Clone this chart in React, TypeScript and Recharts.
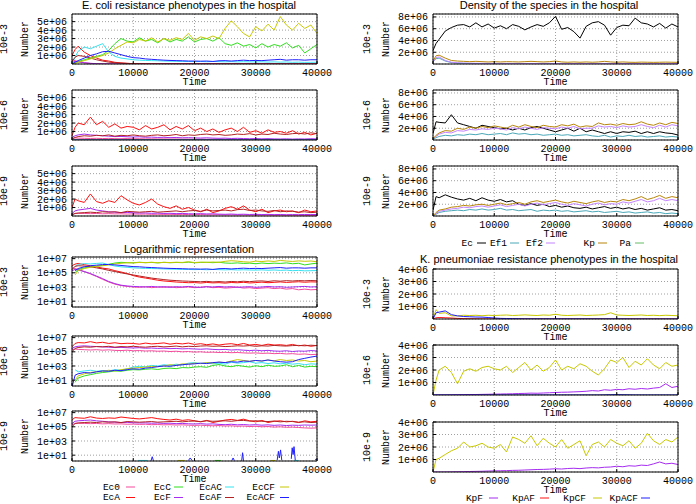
import React from "react";
import { LineChart, Line, XAxis, YAxis, CartesianGrid } from "recharts";

// time points shared by every series
const T = [
  0, 500, 1000,
  2000, 3000, 4000, 5000, 6000, 7000, 8000, 9000, 10000, 11000,
  12000, 13000, 14000, 15000, 16000, 17000, 18000, 19000, 20000, 21000,
  22000, 23000, 24000, 25000, 26000, 27000, 28000, 29000, 30000, 31000,
  32000, 33000, 34000, 35000, 36000, 37000, 38000, 39000, 40000,
];

// ---- E. coli phenotypes, 10e-3 ----
const ec0_3 = [5e5, 4e5, 3e5,
  1.5e5, 7e4, 3e4, 1.2e4, 5e3, 2.5e3, 1.6e3, 1.2e3, 1.0e3, 9e2,
  1.1e3, 8e2, 1e3, 9e2, 1.1e3, 8e2, 9e2, 1e3, 8e2, 9e2,
  1.1e3, 8e2, 9e2, 7e2, 8e2, 1e3, 7e2, 8e2, 6e2, 7e2,
  8e2, 6e2, 7e2, 5e2, 6e2, 4e2, 5e2, 4e2, 4.5e2];
const ecA_3 = [1.0e6, 1.7e6, 2.1e6,
  1.4e6, 1.0e6, 7e5, 4.5e5, 3.5e5, 2e5, 1.3e5, 8e4, 4e4, 2.5e4,
  1.8e4, 1.3e4, 9e3, 7e3, 6e3, 5e3, 4.5e3, 4e3, 4.2e3, 3.6e3,
  4.4e3, 3.8e3, 4.1e3, 3.5e3, 4.3e3, 3.9e3, 4.6e3, 3.7e3, 4.2e3, 4.8e3,
  4.0e3, 4.5e3, 5.2e3, 4.4e3, 4.9e3, 5.5e3, 4.7e3, 5.3e3, 5.0e3];
const ecC_3 = [0, 1e5, 3e5,
  5e5, 7e5, 9e5, 1.1e6, 1.6e6, 2.4e6, 3.0e6, 2.7e6, 2.6e6, 3.1e6,
  2.7e6, 2.9e6, 2.5e6, 3.0e6, 2.6e6, 2.9e6, 2.7e6, 3.2e6, 2.6e6, 2.9e6,
  3.0e6, 2.7e6, 3.1e6, 2.4e6, 2.2e6, 2.5e6, 2.1e6, 2.3e6, 1.9e6, 2.4e6,
  2.0e6, 2.3e6, 2.1e6, 2.5e6, 1.9e6, 2.2e6, 1.3e6, 1.8e6, 2.3e6];
const ecF_3 = [2e5, 3e5, 2.5e5,
  1.5e5, 8e4, 3.5e4, 1.5e4, 6e3, 3e3, 1.8e3, 1.4e3, 1.2e3, 1.1e3,
  1e3, 1.2e3, 1e3, 1.1e3, 9e2, 1.1e3, 1e3, 1.2e3, 1e3, 9e2,
  1.1e3, 1e3, 1.2e3, 1e3, 1.1e3, 9e2, 1e3, 1.1e3, 9e2, 1e3,
  1.2e3, 1e3, 1.1e3, 9e2, 1e3, 1.1e3, 1.2e3, 1e3, 1.1e3];
const ecAC_3 = [0, 8e5, 1.5e6,
  2.0e6, 1.8e6, 2.1e6, 2.4e6, 1.4e6, 9e5, 7e5, 6e5, 5e5, 4.5e5,
  4.2e5, 4e5, 3.8e5, 3.5e5, 3.3e5, 3.2e5, 3e5, 3e5, 2.8e5, 3e5,
  2.7e5, 3e5, 2.8e5, 2.6e5, 2.8e5, 2.5e5, 2.7e5, 2.5e5, 2.4e5, 2.6e5,
  2.3e5, 2.5e5, 2.2e5, 2.4e5, 2e5, 2.2e5, 1.9e5, 2e5, 2.1e5];
const ecAF_3 = [3e5, 8e5, 1.0e6,
  9e5, 7e5, 5e5, 3.5e5, 2.2e5, 1.5e5, 1e5, 7e4, 5e4, 3.5e4,
  2.5e4, 1.8e4, 1.4e4, 1.1e4, 9e3, 8e3, 7e3, 6.5e3, 6e3, 5.5e3,
  6.2e3, 5.2e3, 5.8e3, 5e3, 6e3, 5.4e3, 6.5e3, 5.6e3, 6.8e3, 7.2e3,
  6e3, 7.5e3, 6.6e3, 7.8e3, 7e3, 8e3, 7.4e3, 8.2e3, 7.5e3];
const ecCF_3 = [0, 5e4, 2e5,
  4e5, 6e5, 8e5, 1.0e6, 1.3e6, 1.8e6, 2.2e6, 2.6e6, 2.5e6, 2.9e6,
  2.7e6, 3.1e6, 2.6e6, 3.0e6, 2.8e6, 3.1e6, 2.9e6, 3.6e6, 2.8e6, 3.2e6,
  3.0e6, 3.3e6, 3.0e6, 4.2e6, 5.1e6, 4.4e6, 3.6e6, 3.2e6, 4.4e6, 3.9e6,
  4.7e6, 4.0e6, 5.6e6, 4.6e6, 4.0e6, 4.8e6, 4.2e6, 4.6e6, 3.6e6];
const ecACF_3 = [0, 2e5, 4e5,
  7e5, 1.0e6, 1.2e6, 1.45e6, 1.5e6, 1.3e6, 1.1e6, 9e5, 7.5e5, 7e5,
  6e5, 5.5e5, 5e5, 4.5e5, 4.2e5, 4e5, 3.8e5, 3.5e5, 3.5e5, 3.3e5,
  3.5e5, 3e5, 3.8e5, 4e5, 3.5e5, 4e5, 4.5e5, 4e5, 4.2e5, 4e5,
  4.5e5, 5e5, 5.5e5, 4.5e5, 5e5, 5e5, 4.5e5, 5e5, 5e5];

// ---- E. coli phenotypes, 10e-6 ----
const ec0_6 = [2e5, 2.5e5, 2.2e5,
  2e5, 1.8e5, 2e5, 1.7e5, 1.9e5, 1.6e5, 1.5e5, 1.7e5, 1.4e5, 1.5e5,
  1.3e5, 1.4e5, 1.2e5, 1.3e5, 1.1e5, 1.2e5, 1e5, 1.1e5, 9e4, 1e5,
  8.5e4, 9e4, 8e4, 8.5e4, 7.5e4, 8e4, 7e4, 6.5e4, 7e4, 6e4,
  6.5e4, 5.5e4, 6e4, 5e4, 5.5e4, 4.5e4, 5e4, 4e4, 4.5e4];
const ecA_6 = [5e5, 1.5e6, 2.0e6,
  1.8e6, 2.7e6, 1.8e6, 2.2e6, 1.5e6, 1.9e6, 1.4e6, 1.6e6, 1.5e6, 1.2e6,
  1.7e6, 1.3e6, 1.5e6, 1.8e6, 1.2e6, 1.6e6, 1.3e6, 1.7e6, 1.1e6, 1.4e6,
  1.0e6, 1.3e6, 9e5, 1.2e6, 1.4e6, 1.0e6, 1.5e6, 9e5, 1.1e6, 8e5,
  1.2e6, 9e5, 1.0e6, 8e5, 1.1e6, 7e5, 9e5, 6e5, 8e5];
const ecC_6 = [0, 5, 20,
  40, 60, 90, 120, 150, 200, 180, 250, 300, 280,
  350, 400, 320, 450, 500, 420, 600, 550, 700, 800,
  650, 1.2e3, 1.6e3, 1.0e3, 800, 1.2e3, 900, 700, 1.1e3, 800,
  1.3e3, 900, 1.0e3, 1.5e3, 800, 1.2e3, 700, 900, 800];
const ecF_6 = [3e5, 5e5, 6e5,
  7e5, 6e5, 5.5e5, 5e5, 4.5e5, 4e5, 4.2e5, 3.8e5, 3.5e5, 3.8e5,
  3.2e5, 3.4e5, 3e5, 3.2e5, 2.8e5, 3e5, 2.6e5, 2.8e5, 2.5e5, 2.3e5,
  2.6e5, 2.2e5, 2e5, 2.2e5, 1.8e5, 2e5, 1.7e5, 1.5e5, 1.7e5, 1.4e5,
  1.6e5, 1.3e5, 1.2e5, 1.4e5, 1.1e5, 1.3e5, 1.2e5, 1.5e5, 1.3e5];
const ecAC_6 = [0, 300, 150,
  200, 250, 180, 220, 200, 300, 250, 400, 700, 900,
  800, 1.2e3, 1.0e3, 1.5e3, 1.2e3, 1.8e3, 1.4e3, 2.5e3, 3e3, 2.2e3,
  2.8e3, 2e3, 2.5e3, 1.8e3, 3.5e3, 2.5e3, 3e3, 4e3, 2.5e3, 3e3,
  2.2e3, 2.8e3, 2e3, 2.5e3, 1.8e3, 2.2e3, 1.5e3, 2e3, 1.8e3];
const ecAF_6 = [1e5, 3e5, 4e5,
  5e5, 4.5e5, 5.5e5, 5e5, 6e5, 4.5e5, 5.5e5, 5e5, 6e5, 5e5,
  4.5e5, 5.5e5, 6e5, 5e5, 5.5e5, 6.5e5, 5e5, 6e5, 5.5e5, 6.5e5,
  7e5, 6e5, 6.5e5, 5.5e5, 6e5, 7e5, 6.5e5, 7.5e5, 6e5, 7e5,
  6.5e5, 8e5, 7e5, 6.5e5, 7.5e5, 8e5, 7e5, 8.5e5, 7.5e5];
const ecCF_6 = [0, 10, 40,
  80, 120, 150, 180, 250, 200, 300, 400, 500, 600,
  700, 900, 800, 1.0e3, 1.5e3, 1.2e3, 2e3, 1.8e3, 2.5e3, 2.2e3,
  3e3, 2.5e3, 3.5e3, 3e3, 5e3, 8e3, 6e3, 4.5e3, 6e3, 5e3,
  7e3, 5.5e3, 8e3, 6e3, 7e3, 5e3, 6e3, 4e3, 5e3];
const ecACF_6 = [1, 50, 80,
  120, 100, 150, 200, 180, 250, 220, 300, 400, 350,
  500, 600, 800, 1.0e3, 900, 1.2e3, 1.5e3, 1.8e3, 2e3, 2.5e3,
  2.2e3, 3e3, 3.5e3, 3e3, 4e3, 3.5e3, 5e3, 4.5e3, 6e3, 5e3,
  7e3, 5e3, 4e3, 3.5e3, 4e3, 8e3, 1.2e4, 1.8e4, 2.5e4];

// ---- E. coli phenotypes, 10e-9 ----
const ec0_9 = [2e5, 3e5, 3.2e5,
  3e5, 2.8e5, 3e5, 2.6e5, 2.8e5, 2.5e5, 2.6e5, 2.3e5, 2.4e5, 2.2e5,
  2.3e5, 2e5, 2.1e5, 1.9e5, 2e5, 1.8e5, 1.9e5, 1.7e5, 1.6e5, 1.7e5,
  1.5e5, 1.4e5, 1.5e5, 1.3e5, 1.4e5, 1.2e5, 1.3e5, 1.1e5, 1.2e5, 1e5,
  1.1e5, 9e4, 1e5, 8.5e4, 9e4, 8e4, 7e4, 6.5e4, 7e4];
const ecA_9 = [1e6, 2.0e6, 1.8e6,
  1.6e6, 2.6e6, 1.7e6, 1.5e6, 1.8e6, 1.6e6, 2.4e6, 1.9e6, 1.5e6, 1.3e6,
  1.6e6, 2.0e6, 1.4e6, 1.1e6, 9e5, 1.2e6, 8e5, 1.0e6, 7e5, 5e5,
  8e5, 4e5, 6e5, 9e5, 1.1e6, 8e5, 1.2e6, 7e5, 5e5, 8e5,
  4e5, 6e5, 7e5, 5e5, 6e5, 4e5, 7e5, 5e5, 6e5];
const ecF_9 = [3e5, 6e5, 7e5,
  8e5, 9e5, 7e5, 6e5, 5e5, 4.5e5, 4e5, 4.2e5, 3.8e5, 3.5e5,
  3.6e5, 3.2e5, 3.4e5, 3e5, 3.2e5, 2.8e5, 3e5, 2.7e5, 2.5e5, 2.8e5,
  2.4e5, 2.6e5, 2.2e5, 2e5, 2.3e5, 1.9e5, 2.1e5, 1.8e5, 2e5, 1.7e5,
  1.9e5, 1.6e5, 1.8e5, 1.5e5, 1.7e5, 1.6e5, 1.8e5, 1.7e5, 1.8e5];
const ecAF_9 = [1e5, 3e5, 3.5e5,
  4e5, 4.5e5, 4e5, 5e5, 4.5e5, 5e5, 4e5, 5.5e5, 5e5, 4.5e5,
  5e5, 5.5e5, 4.5e5, 5e5, 5.5e5, 6e5, 5e5, 6e5, 6.5e5, 5.5e5,
  7e5, 6e5, 6.5e5, 7e5, 6e5, 7.5e5, 8e5, 6.5e5, 7e5, 6e5,
  5.5e5, 6.5e5, 5e5, 6e5, 5.5e5, 4.5e5, 5e5, 4e5, 4.5e5];
// rare low counts at 10e-9 (only visible on the log axis); null breaks the line
const ecC_9 = [[23300, 1.8], [24300, 1.8]];
const ecAC_9 = [[10800, 1.8], [12300, 1.8], [12400, null], [36300, 1.8], [37000, 1.8]];
const ecCF_9 = [[17300, 1.8], [18400, 1.8], [18500, null], [32400, 1.8], [33200, 1.8]];
const ecACF_9 = [[12900, 1.6], [13100, 6], [13300, 1.6], [13400, null],
  [19000, 1.8], [19300, 4], [19600, 1.8], [19700, null],
  [26100, 1.8], [26300, 4], [26500, 1.8], [26600, null],
  [27700, 1.6], [27850, 22], [28000, 1.6], [28100, null],
  [33500, 2], [33700, 35], [33850, 4], [34050, 55], [34250, 2], [34350, null],
  [35800, 3], [35950, 110], [36100, 12], [36250, 160], [36450, 2], [36550, null],
  [39700, 2.5], [40000, 2.5]];

// ---- species density ----
const ec_3r = [2.3e6, 3.5e6, 4.2e6,
  5.6e6, 6.2e6, 6.6e6, 6.7e6, 6.3e6, 7.0e6, 6.3e6, 6.8e6, 6.1e6, 6.5e6,
  6.0e6, 6.7e6, 6.4e6, 5.8e6, 6.3e6, 6.7e6, 6.4e6, 7.0e6, 8.1e6, 5.9e6,
  6.2e6, 5.5e6, 4.4e6, 6.4e6, 7.0e6, 7.2e6, 6.6e6, 4.9e6, 6.2e6, 6.6e6,
  6.5e6, 7.8e6, 7.0e6, 6.8e6, 6.3e6, 6.9e6, 6.1e6, 6.8e6, 6.3e6];
const ef1_3r = [4e5, 9e5, 1.0e6,
  5e5, 2.5e5, 1.5e5, 1.2e5, 1e5, 9e4, 8e4, 8e4, 7e4, 7e4,
  6e4, 6e4, 6e4, 5e4, 5e4, 5e4, 5e4, 6e4, 5e4, 5e4,
  5e4, 4e4, 5e4, 4e4, 5e4, 4e4, 5e4, 4e4, 5e4, 4e4,
  4e4, 5e4, 4e4, 4e4, 5e4, 4e4, 4e4, 4e4, 4e4];
const ef2_3r = [3e5, 1.1e6, 1.2e6,
  6e5, 3e5, 2e5, 1.5e5, 1.3e5, 1.2e5, 1.1e5, 1.1e5, 1e5, 1e5,
  1e5, 9e4, 1e5, 9e4, 1e5, 9e4, 1e5, 1.1e5, 9e4, 9e4,
  8e4, 9e4, 8e4, 9e4, 8e4, 9e4, 1e5, 8e4, 9e4, 8e4,
  8e4, 9e4, 8e4, 8e4, 9e4, 8e4, 8e4, 8e4, 8e4];
const kp_3r = [5e5, 1.4e6, 1.5e6,
  1.0e6, 6e5, 5e5, 4.5e5, 4e5, 4.5e5, 4e5, 3.5e5, 4e5, 3.5e5,
  4e5, 3.8e5, 3.5e5, 4e5, 4.5e5, 4e5, 3.5e5, 4e5, 5e5, 3.5e5,
  3e5, 3.5e5, 3e5, 3.5e5, 3e5, 3.5e5, 4.5e5, 3.5e5, 3e5, 3.5e5,
  3e5, 2.8e5, 3.2e5, 3e5, 2.8e5, 3e5, 3.2e5, 3e5, 2.8e5];
const ec_6r = [1.1e6, 3.1e6, 3.0e6,
  2.9e6, 4.3e6, 2.9e6, 2.6e6, 2.3e6, 2.0e6, 2.5e6, 2.3e6, 2.1e6, 1.9e6,
  2.0e6, 1.7e6, 2.0e6, 1.7e6, 2.1e6, 2.3e6, 2.0e6, 1.7e6, 1.4e6, 1.7e6,
  2.0e6, 1.5e6, 2.0e6, 1.4e6, 1.7e6, 1.4e6, 1.1e6, 1.4e6, 1.1e6, 1.4e6,
  1.3e6, 1.5e6, 1.1e6, 1.4e6, 1.1e6, 1.4e6, 1.2e6, 1.1e6, 8.5e5];
const ef1_6r = [1e5, 4e5, 6e5,
  8e5, 7e5, 9e5, 8e5, 1.0e6, 9e5, 1.1e6, 9e5, 1.0e6, 1.1e6,
  9e5, 1.2e6, 1.0e6, 1.1e6, 9e5, 1.0e6, 8e5, 9e5, 1.0e6, 8e5,
  9e5, 7e5, 8e5, 9e5, 7e5, 6e5, 8e5, 5e5, 7e5, 6e5,
  8e5, 6e5, 7e5, 5e5, 6e5, 7e5, 5e5, 6e5, 5e5];
const ef2_6r = [2e5, 6e5, 1.0e6,
  1.3e6, 1.2e6, 1.6e6, 1.5e6, 1.8e6, 1.7e6, 1.9e6, 1.8e6, 2.0e6, 1.9e6,
  1.7e6, 2.1e6, 1.9e6, 2.2e6, 2.0e6, 1.8e6, 2.1e6, 2.0e6, 1.9e6, 2.2e6,
  2.0e6, 2.3e6, 1.9e6, 2.0e6, 2.0e6, 2.4e6, 2.2e6, 2.3e6, 2.1e6, 2.4e6,
  2.2e6, 2.3e6, 2.6e6, 2.3e6, 2.1e6, 2.5e6, 2.2e6, 2.6e6, 2.4e6];
const kp_6r = [2e5, 8e5, 1.2e6,
  1.6e6, 1.5e6, 2.0e6, 1.8e6, 2.2e6, 2.0e6, 2.3e6, 2.1e6, 2.4e6, 2.2e6,
  2.0e6, 2.5e6, 2.2e6, 2.6e6, 2.3e6, 2.1e6, 2.5e6, 2.3e6, 2.2e6, 2.6e6,
  2.4e6, 2.7e6, 2.2e6, 2.4e6, 2.3e6, 2.9e6, 2.6e6, 2.7e6, 2.5e6, 2.8e6,
  2.6e6, 2.7e6, 3.1e6, 2.7e6, 2.5e6, 2.9e6, 2.6e6, 3.0e6, 2.8e6];
const ec_9r = [1.0e6, 3.3e6, 3.1e6,
  3.6e6, 3.2e6, 2.9e6, 2.7e6, 3.0e6, 2.6e6, 3.1e6, 2.7e6, 2.5e6, 2.8e6,
  2.4e6, 2.6e6, 2.0e6, 1.8e6, 2.1e6, 1.8e6, 2.0e6, 1.6e6, 1.8e6, 1.5e6,
  1.7e6, 1.4e6, 1.3e6, 1.5e6, 1.2e6, 1.4e6, 1.6e6, 1.3e6, 1.5e6, 1.2e6,
  1.4e6, 1.1e6, 1.3e6, 1.0e6, 1.2e6, 1.4e6, 1.0e6, 1.1e6, 9e5];
const ef1_9r = [0, 3e5, 6e5,
  8e5, 9e5, 1.0e6, 9e5, 1.1e6, 1.0e6, 1.2e6, 1.0e6, 1.1e6, 1.3e6,
  1.0e6, 1.1e6, 9e5, 1.0e6, 1.1e6, 8e5, 1.0e6, 9e5, 1.0e6, 8e5,
  9e5, 7e5, 8e5, 9e5, 7e5, 8e5, 6e5, 7e5, 8e5, 6e5,
  7e5, 5e5, 6e5, 7e5, 5e5, 6e5, 4e5, 5e5, 4e5];
const ef2_9r = [0, 4e5, 8e5,
  1.0e6, 1.2e6, 1.3e6, 1.5e6, 1.4e6, 1.6e6, 1.7e6, 1.5e6, 1.7e6, 1.9e6,
  1.6e6, 1.8e6, 2.0e6, 1.7e6, 2.0e6, 2.2e6, 1.9e6, 2.1e6, 2.3e6, 2.0e6,
  1.8e6, 2.1e6, 1.9e6, 1.7e6, 2.0e6, 2.2e6, 1.9e6, 2.1e6, 2.0e6, 2.4e6,
  2.2e6, 2.5e6, 2.8e6, 2.4e6, 2.6e6, 3.0e6, 2.6e6, 2.8e6, 2.6e6];
const kp_9r = [0, 6e5, 1.0e6,
  1.2e6, 1.5e6, 1.6e6, 1.8e6, 1.7e6, 1.9e6, 2.0e6, 1.8e6, 2.0e6, 2.2e6,
  1.9e6, 2.1e6, 2.3e6, 2.0e6, 2.4e6, 2.6e6, 2.3e6, 2.5e6, 2.7e6, 2.4e6,
  2.2e6, 2.5e6, 2.3e6, 2.1e6, 2.4e6, 2.6e6, 2.3e6, 2.5e6, 2.4e6, 2.8e6,
  2.6e6, 2.9e6, 3.3e6, 2.8e6, 3.1e6, 3.5e6, 3.0e6, 3.3e6, 3.1e6];

// ---- K. pneumoniae phenotypes ----
const kpAF_3 = [0, 1e5, 1.2e5,
  1e5, 8e4, 5e4, 3e4, 2e4, 1e4, 0, 0, 0, 0,
  0, 0, 0, 0, 0, 0, 0, 0, 0, 0,
  0, 0, 0, 0, 0, 0, 0, 0, 0, 0,
  0, 0, 0, 0, 0, 0, 0, 0, 0];
const kpCF_3 = [0, 7.5e5, 4.5e5,
  5e5, 2.5e5, 2.5e5, 3e5, 2.8e5, 3e5, 2.6e5, 3e5, 2.8e5, 3e5,
  3.2e5, 2.8e5, 3e5, 3.3e5, 3e5, 2.8e5, 3.2e5, 3e5, 3.8e5, 3e5,
  2.8e5, 3e5, 3.2e5, 2.8e5, 3e5, 3.2e5, 3.5e5, 5e5, 3.2e5, 3e5,
  2.8e5, 3e5, 3.2e5, 2.8e5, 3e5, 2.7e5, 3e5, 2.8e5, 2.6e5];
const kpACF_3 = [0, 5e5, 5.5e5,
  6.5e5, 3.5e5, 2.5e5, 2e5, 1.8e5, 1.6e5, 1.5e5, 1.2e5, 8e4, 5e4,
  4e4, 3e4, 2e4, 1e4, 1e4, 1e4, 1e4, 1e4, 1e4, 1e4,
  1e4, 1e4, 1e4, 1e4, 1e4, 1e4, 1e4, 1e4, 1e4, 1e4,
  0, 0, 0, 0, 0, 0, 0, 0, 0];
const kpF_6 = [0, 0, 0,
  0, 1e4, 2e4, 3e4, 4e4, 4e4, 5e4, 6e4, 7e4, 8e4,
  9e4, 1e5, 1.2e5, 1.3e5, 1.5e5, 1.4e5, 1.6e5, 1.8e5, 2e5, 2.2e5,
  2.3e5, 2.5e5, 2.7e5, 3e5, 3.5e5, 3.2e5, 4.2e5, 3.8e5, 4.5e5, 4.2e5,
  5e5, 4.6e5, 5.2e5, 4.8e5, 5.5e5, 6e5, 9e5, 6e5, 7e5];
const kpCF_6 = [0, 1.2e6, 2.0e6,
  2.3e6, 1.8e6, 9e5, 1.9e6, 2.1e6, 1.9e6, 2.2e6, 2.3e6, 2.1e6, 2.0e6,
  2.3e6, 1.8e6, 2.2e6, 2.6e6, 2.0e6, 2.4e6, 1.9e6, 2.2e6, 2.8e6, 2.0e6,
  2.3e6, 2.1e6, 2.5e6, 2.3e6, 1.9e6, 1.6e6, 2.1e6, 2.8e6, 2.6e6, 3.0e6,
  2.2e6, 2.7e6, 2.4e6, 2.9e6, 2.4e6, 2.1e6, 2.6e6, 2.3e6, 2.4e6];
const kpACF_6 = [0, 0, 0,
  0, 0, 0, 0, 0, 0, 0, 0, 0, 0,
  0, 0, 0, 0, 0, 0, 0, 0, 0, 0,
  0, 0, 0, 0, 0, 0, 1e4, 2.5e4, 3e4, 2e4,
  1e4, 0, 0, 0, 0, 0, 0, 0, 0];
const kpF_9 = [0, 0, 0,
  0, 1e4, 2e4, 3e4, 4e4, 5e4, 6e4, 8e4, 9e4, 1e5,
  1.1e5, 1.3e5, 1.4e5, 1.6e5, 1.8e5, 2e5, 2.1e5, 2.3e5, 2.6e5, 2.4e5,
  2.8e5, 3e5, 2.7e5, 3.2e5, 3.5e5, 3.3e5, 3.8e5, 4e5, 4.6e5, 4.2e5,
  5e5, 4.7e5, 5.5e5, 5.2e5, 6.5e5, 8e5, 6.5e5, 7e5, 6e5];
const kpCF_9 = [0, 1.0e6, 1.1e6,
  1.4e6, 1.7e6, 1.9e6, 2.4e6, 2.0e6, 2.1e6, 2.3e6, 2.0e6, 1.9e6, 2.2e6,
  1.6e6, 2.8e6, 2.6e6, 2.3e6, 2.9e6, 2.1e6, 2.7e6, 2.3e6, 2.0e6, 2.6e6,
  1.9e6, 2.2e6, 2.5e6, 1.3e6, 2.2e6, 2.4e6, 2.0e6, 2.6e6, 2.3e6, 2.1e6,
  2.5e6, 1.9e6, 2.3e6, 3.1e6, 2.5e6, 2.2e6, 2.6e6, 2.4e6, 2.8e6];

const C = {
  Ec0: "#f54a9c", EcA: "#ff1010", EcC: "#2fe01c", EcF: "#a52cf0",
  EcAC: "#35e4f2", EcAF: "#b22222", EcCF: "#c8c800", EcACF: "#1f1fff",
  Ec: "#000000", Ef1: "#4aa8b8", Ef2: "#c384ff", Kp: "#b8860b", Pa: "#66bb66",
  KpF: "#a52cf0", KpAF: "#ff1010", KpCF: "#c8c800", KpACF: "#1f1fff",
};

const mono = '"Liberation Mono", "DejaVu Sans Mono", monospace';
const sans = '"Liberation Sans", Arial, sans-serif';

type S = { name: string; values: number[] };
type Pts = (number | null)[][];

const ecoli = (a: number[], b: number[], c: number[], d: number[], e: number[], f: number[], g: number[], h: number[]): S[] => [
  { name: "Ec0", values: a }, { name: "EcA", values: b }, { name: "EcC", values: c }, { name: "EcF", values: d },
  { name: "EcAC", values: e }, { name: "EcAF", values: f }, { name: "EcCF", values: g }, { name: "EcACF", values: h },
];
const ec3 = ecoli(ec0_3, ecA_3, ecC_3, ecF_3, ecAC_3, ecAF_3, ecCF_3, ecACF_3);
const ec6 = ecoli(ec0_6, ecA_6, ecC_6, ecF_6, ecAC_6, ecAF_6, ecCF_6, ecACF_6);
const ec9 = [
  { name: "Ec0", values: ec0_9 }, { name: "EcA", values: ecA_9 },
  { name: "EcF", values: ecF_9 }, { name: "EcAF", values: ecAF_9 },
];
const ec9low: { name: string; pts: Pts }[] = [
  { name: "EcC", pts: ecC_9 }, { name: "EcAC", pts: ecAC_9 },
  { name: "EcCF", pts: ecCF_9 }, { name: "EcACF", pts: ecACF_9 },
];
const dens3 = [{ name: "Ec", values: ec_3r }, { name: "Ef1", values: ef1_3r }, { name: "Ef2", values: ef2_3r }, { name: "Kp", values: kp_3r }];
const dens6 = [{ name: "Ec", values: ec_6r }, { name: "Ef1", values: ef1_6r }, { name: "Ef2", values: ef2_6r }, { name: "Kp", values: kp_6r }];
const dens9 = [{ name: "Ec", values: ec_9r }, { name: "Ef1", values: ef1_9r }, { name: "Ef2", values: ef2_9r }, { name: "Kp", values: kp_9r }];
const kp3 = [{ name: "KpAF", values: kpAF_3 }, { name: "KpCF", values: kpCF_3 }, { name: "KpACF", values: kpACF_3 }];
const kp6 = [{ name: "KpF", values: kpF_6 }, { name: "KpCF", values: kpCF_6 }, { name: "KpACF", values: kpACF_6 }];
const kp9 = [{ name: "KpF", values: kpF_9 }, { name: "KpCF", values: kpCF_9 }];

const PW = 245, PH = 50, ML = 72, MR = 22, MT = 4, MB = 26;
const xTicks = [0, 10000, 20000, 30000, 40000];
const LOG: [number, number] = [1.5, 1.7e7];
const logTicks = [1e1, 1e3, 1e5, 1e7];

function fmtExp(v: number) {
  const [m, e] = v.toExponential(0).split("e");
  return `${m}e${e[0]}${e.slice(1).padStart(2, "0")}`;
}

function Panel({ x, y, series, log = false, domain, ticks, low = [] }: {
  x: number; y: number; series: S[]; log?: boolean; domain: [number, number]; ticks: number[];
  low?: { name: string; pts: Pts }[];
}) {
  const data = T.map((t, i) => {
    const row: Record<string, number | null> = { t };
    series.forEach(s => {
      const v = s.values[i];
      row[s.name] = log && v <= 0 ? null : v;
    });
    return row;
  });
  const tickStyle = { fill: "#000", fontSize: 10, fontFamily: mono };
  const scale = log ? "log" : "linear";
  return (
    <div style={{ position: "absolute", left: x - ML, top: y - MT }}>
      <LineChart width={ML + PW + MR} height={MT + PH + MB} data={data} margin={{ top: 0, right: 0, bottom: 0, left: 0 }}>
        <CartesianGrid stroke="#a0a0a0" strokeDasharray="1 2" />
        <XAxis dataKey="t" type="number" domain={[0, 40000]} ticks={xTicks} interval={0} allowDataOverflow
          height={MB} stroke="#000" tickSize={-3} tickMargin={8} tick={tickStyle}
          label={{ value: "Time", position: "insideBottom", offset: 5, ...tickStyle }} />
        <XAxis xAxisId="top" orientation="top" dataKey="t" type="number" domain={[0, 40000]} ticks={xTicks}
          interval={0} allowDataOverflow height={MT} stroke="#000" tickSize={-3} tick={false} />
        <YAxis type="number" scale={scale} domain={domain} ticks={ticks} interval={0} allowDataOverflow
          width={ML} stroke="#000" tickSize={-3} tickMargin={8} tick={tickStyle} tickFormatter={fmtExp} />
        <YAxis yAxisId="right" orientation="right" type="number" scale={scale} domain={domain} ticks={ticks}
          interval={0} allowDataOverflow width={MR} stroke="#000" tickSize={-3} tick={false} />
        {series.map(s => (
          <Line key={s.name} dataKey={s.name} stroke={C[s.name]} strokeWidth={1} dot={false}
            isAnimationActive={false} />
        ))}
        {low.map(s => (
          <Line key={s.name + "low"} data={s.pts.map(([t, v]) => ({ t, v }))} dataKey="v" stroke={C[s.name]}
            strokeWidth={1} dot={false} isAnimationActive={false} />
        ))}
      </LineChart>
    </div>
  );
}

function SideLabels({ x1, x2, y, tag }: { x1: number; x2: number; y: number; tag: string }) {
  const yc = y + PH / 2;
  const st = { fontFamily: mono, fontSize: 10, fill: "#000" };
  return (
    <g>
      <text x={x1} y={yc} transform={`rotate(-90 ${x1} ${yc})`} textAnchor="middle" dominantBaseline="central" style={st}>{tag}</text>
      <text x={x2} y={yc} transform={`rotate(-90 ${x2} ${yc})`} textAnchor="middle" dominantBaseline="central" style={st}>Number</text>
    </g>
  );
}

function Key({ tx, lx, y, label }: { tx: number; lx: number; y: number; label: string }) {
  return (
    <g>
      <text x={tx} y={y} textAnchor="end" dominantBaseline="central" style={{ fontFamily: mono, fontSize: 9.5, fill: "#000" }}>{label}</text>
      <line x1={lx} x2={lx + 9} y1={y} y2={y} stroke={C[label]} strokeWidth={1} />
    </g>
  );
}

export default function App() {
  const LX = 72, RX = 433;
  const left = [14, 90, 166, 257, 336, 411];
  const right = [14, 90, 166, 269, 345, 422];
  const tags = ["10e-3", "10e-6", "10e-9"];
  const linL: [number, number] = [0, 5.9e6];
  const linD: [number, number] = [0, 8.5e6];
  const linK: [number, number] = [0, 4e6];
  const tL = [1e6, 2e6, 3e6, 4e6, 5e6];
  const tD = [2e6, 4e6, 6e6, 8e6];
  const tK = [1e6, 2e6, 3e6, 4e6];
  const title = { fontFamily: sans, fontSize: 11, fill: "#000" };
  return (
    <div style={{ position: "fixed", left: 0, top: 0, width: 696, height: 504, background: "#fff", overflow: "hidden" }}>
      <svg width={696} height={504} style={{ position: "absolute", left: 0, top: 0 }}>
        <text x={189} y={9} textAnchor="middle" style={title}>E. coli resistance phenotypes in the hospital</text>
        <text x={549} y={9} textAnchor="middle" style={title}>Density of the species in the hospital</text>
        <text x={189} y={252.5} textAnchor="middle" style={title}>Logarithmic representation</text>
        <text x={549} y={262.5} textAnchor="middle" style={title}>K. pneumoniae resistance phenotypes in the hospital</text>
        {left.map((y, i) => <SideLabels key={"l" + i} x1={4.5} x2={25} y={y} tag={tags[i % 3]} />)}
        {right.map((y, i) => <SideLabels key={"r" + i} x1={367} x2={386} y={y} tag={tags[i % 3]} />)}
        {/* E. coli key */}
        <Key tx={120} lx={126} y={487} label="Ec0" />
        <Key tx={171} lx={174} y={487} label="EcC" />
        <Key tx={222} lx={225} y={487} label="EcAC" />
        <Key tx={275} lx={280} y={487} label="EcCF" />
        <Key tx={120} lx={126} y={497.5} label="EcA" />
        <Key tx={171} lx={174} y={497.5} label="EcF" />
        <Key tx={222} lx={225} y={497.5} label="EcAF" />
        <Key tx={275} lx={280} y={497.5} label="EcACF" />
        {/* density key */}
        <Key tx={473} lx={477} y={243} label="Ec" />
        <Key tx={507} lx={510} y={243} label="Ef1" />
        <Key tx={543} lx={546} y={243} label="Ef2" />
        <Key tx={595} lx={598} y={243} label="Kp" />
        <Key tx={631} lx={635} y={243} label="Pa" />
        {/* K. pneumoniae key */}
        <Key tx={483} lx={489} y={498} label="KpF" />
        <Key tx={535} lx={540} y={498} label="KpAF" />
        <Key tx={586} lx={593} y={498} label="KpCF" />
        <Key tx={638} lx={641} y={498} label="KpACF" />
      </svg>
      <Panel x={LX} y={left[0]} series={ec3} domain={linL} ticks={tL} />
      <Panel x={LX} y={left[1]} series={ec6} domain={linL} ticks={tL} />
      <Panel x={LX} y={left[2]} series={ec9} domain={linL} ticks={tL} />
      <Panel x={LX} y={left[3]} series={ec3} log domain={LOG} ticks={logTicks} />
      <Panel x={LX} y={left[4]} series={ec6} log domain={LOG} ticks={logTicks} />
      <Panel x={LX} y={left[5]} series={ec9} log domain={LOG} ticks={logTicks} low={ec9low} />
      <Panel x={RX} y={right[0]} series={dens3} domain={linD} ticks={tD} />
      <Panel x={RX} y={right[1]} series={dens6} domain={linD} ticks={tD} />
      <Panel x={RX} y={right[2]} series={dens9} domain={linD} ticks={tD} />
      <Panel x={RX} y={right[3]} series={kp3} domain={linK} ticks={tK} />
      <Panel x={RX} y={right[4]} series={kp6} domain={linK} ticks={tK} />
      <Panel x={RX} y={right[5]} series={kp9} domain={linK} ticks={tK} />
    </div>
  );
}
